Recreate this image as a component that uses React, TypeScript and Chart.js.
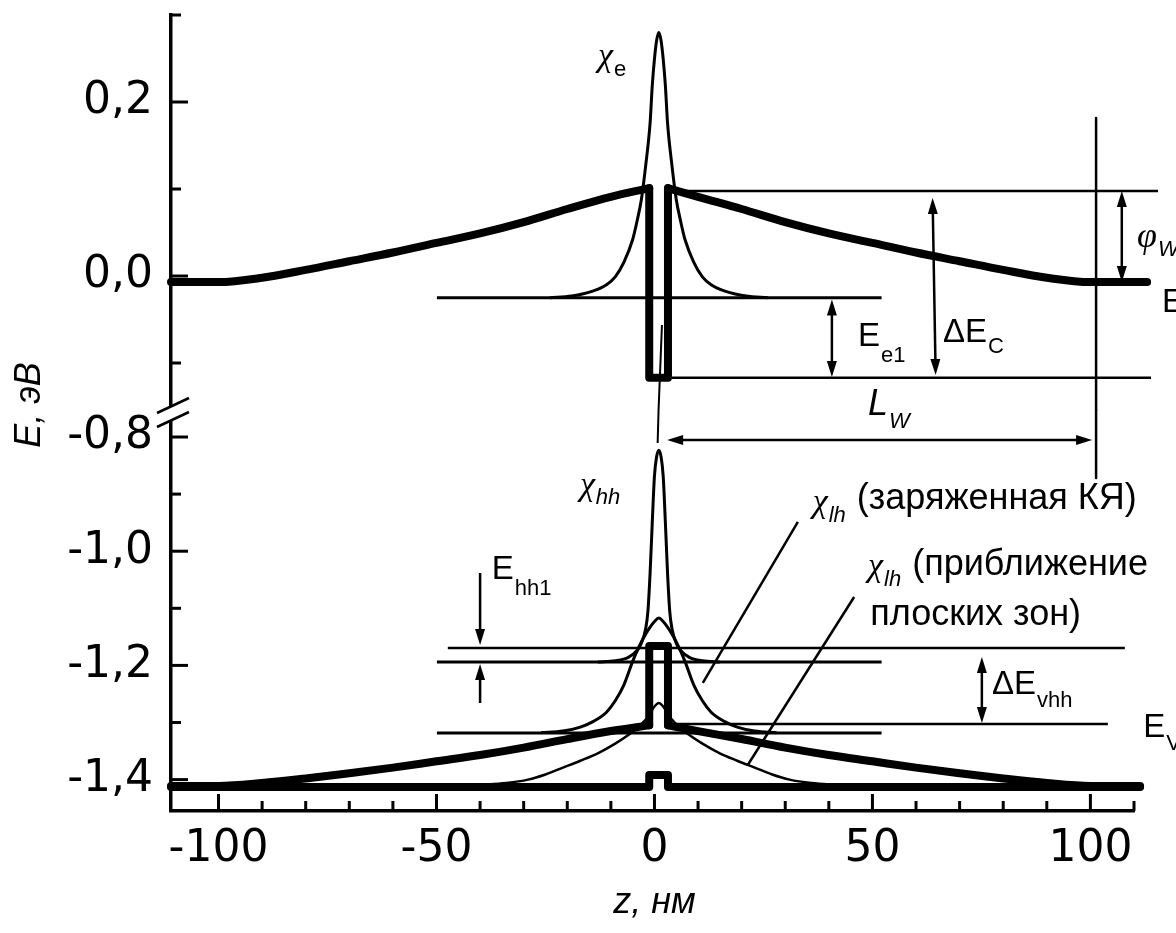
import React, { useEffect, useRef } from "react";
import { Chart, registerables } from "chart.js";

Chart.register(...registerables);

// ---------- axes ----------
const X_MIN = -110.9;
const X_MAX = 110;
const X_STEP = 10;
const X_LABELED = [-100, -50, 0, 50, 100];
const E_TOP_MIN = -0.154;
const E_TOP_MAX = 0.3;
const E_BOT_MIN = -1.455;
const E_BOT_MAX = -0.7527;
const E_STEP = 0.1;
const E_LABELED = [0.2, 0.0, -0.8, -1.0, -1.2, -1.4];

// ---------- conduction band (upper panel), [z nm, E eV] ----------
const ecLeft = [[-110.9, -0.007], [-100, -0.007], [-90, -0.002], [-80, 0.007], [-70, 0.017], [-60, 0.027], [-50, 0.038], [-40, 0.049], [-30, 0.062], [-20, 0.077], [-10, 0.091], [-1.2, 0.101]];
const ecWell = [[-1.2, 0.101], [-1.2, -0.117], [3.1, -0.117], [3.1, 0.101]];
const ecRight = [[3.1, 0.101], [10, 0.091], [20, 0.077], [30, 0.062], [40, 0.049], [50, 0.038], [60, 0.027], [70, 0.017], [80, 0.007], [90, -0.002], [100, -0.007], [113, -0.007]];
const chiE = [[-24, -0.025], [-19, -0.023], [-14, -0.017], [-11, -0.010], [-9, -0.001], [-7, 0.016], [-5, 0.042], [-4, 0.063], [-3, 0.088], [-2, 0.1275], [-1, 0.176], [-0.5, 0.219], [0, 0.2495], [0.5, 0.271], [1, 0.280], [1.5, 0.271], [2, 0.2495], [2.5, 0.219], [3, 0.176], [4, 0.1275], [5, 0.088], [6, 0.063], [7, 0.042], [9, 0.016], [11, -0.001], [13, -0.010], [16, -0.017], [21, -0.023], [26, -0.025]];
const levelEe1 = [[-49.9, -0.025], [52.1, -0.025]];
const levelTopC = [[4.2, 0.0977], [115.5, 0.0977]];
const levelWellC = [[4.0, -0.117], [113.9, -0.117]];
const vLineTop = [[101.3, 0.1816], [101.3, -0.154]];
const pointerTop = [[0.94, -0.154], [1.72, -0.0563]];

// ---------- valence band (lower panel) ----------
const evLeft = [[-110.9, -1.411], [-100, -1.411], [-90, -1.406], [-80, -1.398], [-70, -1.389], [-60, -1.379], [-50, -1.368], [-40, -1.357], [-30, -1.344], [-20, -1.329], [-10, -1.315], [-1.2, -1.305]];
const evWell = [[-1.2, -1.305], [-1.2, -1.166], [3.1, -1.166], [3.1, -1.305]];
const evRight = [[3.1, -1.305], [10, -1.315], [20, -1.329], [30, -1.344], [40, -1.357], [50, -1.368], [60, -1.379], [70, -1.389], [80, -1.398], [90, -1.406], [100, -1.411], [111.4, -1.411]];
const evFlat = [[-110.9, -1.413], [-1.2, -1.413], [-1.2, -1.392], [3.1, -1.392], [3.1, -1.413], [111.4, -1.413]];
const chiHH = [[-13, -1.194], [-9, -1.192], [-6, -1.186], [-4, -1.174], [-3, -1.161], [-2, -1.135], [-1.5, -1.105], [-1, -1.038], [-0.5, -0.949], [0, -0.868], [0.5, -0.834], [1, -0.823], [1.5, -0.834], [2, -0.868], [2.5, -0.949], [3, -1.038], [3.5, -1.105], [4, -1.135], [5, -1.161], [6, -1.174], [8, -1.186], [11, -1.192], [15, -1.194]];
const chiLHq = [[-26, -1.318], [-21, -1.315], [-17, -1.308], [-14, -1.298], [-11, -1.282], [-9, -1.262], [-7, -1.234], [-5, -1.193], [-4, -1.175], [-3, -1.159], [-2, -1.145], [-1, -1.133], [0, -1.123], [1, -1.117], [2, -1.123], [3, -1.133], [4, -1.145], [5, -1.159], [6, -1.175], [7, -1.193], [9, -1.234], [11, -1.262], [13, -1.282], [16, -1.298], [19, -1.308], [23, -1.315], [28, -1.318]];
const chiLHf = [[-49, -1.413], [-39, -1.409], [-34, -1.406], [-29, -1.400], [-25, -1.391], [-21, -1.379], [-17, -1.367], [-13, -1.354], [-9, -1.337], [-6, -1.322], [-4, -1.310], [-2, -1.295], [-1, -1.284], [0, -1.272], [1, -1.266], [2, -1.272], [3, -1.284], [4, -1.295], [6, -1.310], [8, -1.322], [11, -1.337], [15, -1.354], [19, -1.367], [23, -1.379], [27, -1.391], [31, -1.400], [36, -1.406], [41, -1.409], [51, -1.413]];
const levelTopV = [[-47.4, -1.1695], [107.9, -1.1695]];
const levelHh1 = [[-49.9, -1.194], [52.1, -1.194]];
const levelWellV = [[4.0, -1.3026], [104.0, -1.3026]];
const levelLh = [[-49.9, -1.3184], [52.1, -1.3184]];
const vLineBot = [[101.3, -0.7527], [101.3, -0.8718]];
const pointerBot = [[0.73, -0.8105], [0.94, -0.7527]];
const leaderQ = [[11.1, -1.2308], [32.9, -0.9488]];
const leaderF = [[21.4, -1.3744], [45.8, -1.0802]];

// ---------- arrows: [axis, z1, E1, z2, E2, headAtStart, headAtEnd] ----------
const arrowsList: any[] = [
  ["yTop", 107.2, 0.0977, 107.2, -0.007, 1, 1],
  ["yTop", 63.8, 0.0897, 64.5, -0.1138, 1, 1],
  ["yTop", 40.7, -0.027, 40.7, -0.116, 1, 1],
  ["yBot", 2.9, -0.8052, 100.4, -0.8052, 1, 1],
  ["yBot", 75.1, -1.1853, 75.1, -1.3009, 1, 1],
  ["yBot", -40.0, -1.0382, -40.0, -1.1643, 0, 1],
  ["yBot", -40.0, -1.2659, -40.0, -1.1975, 0, 1],
];

const SANS = "'Liberation Sans', Arial, sans-serif";
const SERIF = "'Liberation Serif', 'Times New Roman', serif";
const TICK_FONT = "'DejaVu Sans', Verdana, sans-serif";

// ---------- text labels: axis, z, E, parts [text, font, dy] ----------
const textLabels: any[] = [
  ["yTop", -12.96, 0.2517, [["χ", `italic 34px ${SERIF}`, 0], ["e", `22px ${SANS}`, 13]]],
  ["yBot", -17.1, -0.8858, [["χ", `italic 34px ${SERIF}`, 0], ["hh", `italic 22px ${SANS}`, 12]]],
  ["yBot", 36.3, -0.9156, [["χ", `italic 34px ${SERIF}`, 0], ["lh", `italic 22px ${SANS}`, 13], [" (заряженная КЯ)", `36px ${SANS}`, -4]]],
  ["yBot", 49.0, -1.0277, [["χ", `italic 34px ${SERIF}`, 0], ["lh", `italic 22px ${SANS}`, 13], [" (приближение", `36px ${SANS}`, -2]]],
  ["yBot", 49.5, -1.1118, [["плоских зон)", `36px ${SANS}`, 0]]],
  ["yTop", 66.2, -0.0655, [["ΔE", `33px ${SANS}`, 0], ["C", `22px ${SANS}`, 14]]],
  ["yTop", 46.7, -0.0701, [["E", `33px ${SANS}`, 0], ["e1", `22px ${SANS}`, 19]]],
  ["yTop", 110.7, 0.0437, [["φ", `italic 36px ${SERIF}`, 0], ["W", `italic 22px ${SANS}`, 12]]],
  ["yTop", 116.4, -0.031, [["E", `33px ${SANS}`, 0], ["C", `22px ${SANS}`, 14]]],
  ["yTop", 49.0, -0.1483, [["L", `italic 36px ${SANS}`, 0], ["W", `italic 22px ${SANS}`, 17]]],
  ["yBot", 77.4, -1.2343, [["ΔE", `33px ${SANS}`, 0], ["vhh", `22px ${SANS}`, 16]]],
  ["yBot", 112.1, -1.3096, [["E", `33px ${SANS}`, 0], ["V", `22px ${SANS}`, 16]]],
  ["yBot", -37.3, -1.0329, [["E", `33px ${SANS}`, 0], ["hh1", `22px ${SANS}`, 19]]],
];

const Y_TITLE = "E, эВ";
const X_TITLE = "z, нм";

function drawArrowHead(ctx: CanvasRenderingContext2D, tx: number, ty: number, fx: number, fy: number) {
  const ang = Math.atan2(ty - fy, tx - fx);
  const L = 16, W = 5;
  ctx.beginPath();
  ctx.moveTo(tx, ty);
  ctx.lineTo(tx - L * Math.cos(ang) + W * Math.sin(ang), ty - L * Math.sin(ang) - W * Math.cos(ang));
  ctx.lineTo(tx - L * Math.cos(ang) - W * Math.sin(ang), ty - L * Math.sin(ang) + W * Math.cos(ang));
  ctx.closePath();
  ctx.fill();
}

const decor = {
  id: "decor",
  afterDatasetsDraw(chart: any) {
    const ctx: CanvasRenderingContext2D = chart.ctx;
    const xs = chart.scales.x;
    const yt = chart.scales.yTop;
    const yb = chart.scales.yBot;
    const area = chart.chartArea;
    ctx.save();
    ctx.strokeStyle = "#000";
    ctx.fillStyle = "#000";

    // inward tick marks
    ctx.lineWidth = 3;
    ctx.lineCap = "butt";
    for (const t of xs.ticks) {
      const px = xs.getPixelForValue(t.value);
      if (px - area.left < 6) continue;
      const major = X_LABELED.some((v) => Math.abs(v - t.value) < 1e-6);
      const len = major ? 17 : 10;
      ctx.beginPath();
      ctx.moveTo(px, area.bottom);
      ctx.lineTo(px, area.bottom - len);
      ctx.stroke();
    }
    for (const s of [yt, yb]) {
      for (const t of s.ticks) {
        const py = s.getPixelForValue(t.value);
        const major = E_LABELED.some((v) => Math.abs(v - t.value) < 1e-6);
        const len = major ? 17 : 10;
        ctx.beginPath();
        ctx.moveTo(area.left, py);
        ctx.lineTo(area.left + len, py);
        ctx.stroke();
      }
    }

    // axis break
    const b = yt.bottom;
    const ax = area.left;
    ctx.fillStyle = "#fff";
    ctx.fillRect(ax - 4, b - 3, 8, 13);
    ctx.fillStyle = "#000";
    ctx.lineWidth = 2.5;
    ctx.beginPath();
    ctx.moveTo(ax - 14, b + 3);
    ctx.lineTo(ax + 18, b - 12);
    ctx.moveTo(ax - 14, b + 17);
    ctx.lineTo(ax + 18, b + 2);
    ctx.stroke();

    // arrows
    ctx.lineWidth = 2.5;
    for (const a of arrowsList) {
      const s = a[0] === "yTop" ? yt : yb;
      const x1 = xs.getPixelForValue(a[1]);
      const y1 = s.getPixelForValue(a[2]);
      const x2 = xs.getPixelForValue(a[3]);
      const y2 = s.getPixelForValue(a[4]);
      const len = Math.hypot(x2 - x1, y2 - y1);
      const ux = (x2 - x1) / len, uy = (y2 - y1) / len;
      const sx = a[5] ? x1 + ux * 12 : x1, sy = a[5] ? y1 + uy * 12 : y1;
      const ex = a[6] ? x2 - ux * 12 : x2, ey = a[6] ? y2 - uy * 12 : y2;
      ctx.beginPath();
      ctx.moveTo(sx, sy);
      ctx.lineTo(ex, ey);
      ctx.stroke();
      if (a[5]) drawArrowHead(ctx, x1, y1, x2, y2);
      if (a[6]) drawArrowHead(ctx, x2, y2, x1, y1);
    }

    // labels
    ctx.textBaseline = "middle";
    ctx.textAlign = "left";
    for (const l of textLabels) {
      const s = l[0] === "yTop" ? yt : yb;
      let x = xs.getPixelForValue(l[1]);
      const y = s.getPixelForValue(l[2]);
      for (const p of l[3]) {
        ctx.font = p[1];
        ctx.fillText(p[0], x, y + p[2]);
        x += ctx.measureText(p[0]).width + 1;
      }
    }

    // axis titles
    ctx.font = `italic 36px ${SANS}`;
    ctx.textAlign = "center";
    ctx.fillText(X_TITLE, xs.getPixelForValue(0), 903);
    ctx.save();
    ctx.translate(30, b - 5);
    ctx.rotate(-Math.PI / 2);
    ctx.fillText(Y_TITLE, 0, 0);
    ctx.restore();

    ctx.restore();
  },
};

const toXY = (pts: number[][]) => pts.map(([x, y]) => ({ x, y }));

function ds(pts: number[][], axis: string, width: number, smooth = false) {
  return {
    data: toXY(pts),
    yAxisID: axis,
    borderColor: "#000",
    backgroundColor: "#000",
    borderWidth: width,
    pointRadius: 0,
    pointHoverRadius: 0,
    fill: false,
    tension: 0,
    cubicInterpolationMode: smooth ? "monotone" : "default",
    borderJoinStyle: "round",
    borderCapStyle: width >= 6 ? "round" : "butt",
    clip: false,
  };
}

function eLabel(v: number) {
  const t = E_LABELED.find((e) => Math.abs(e - v) < 1e-6);
  return t === undefined ? "" : t.toFixed(1).replace(".", ",");
}

export default function App() {
  const ref = useRef<HTMLCanvasElement>(null);
  useEffect(() => {
    const canvas = ref.current;
    if (!canvas) return;
    const datasets: any[] = [
      ds(ecLeft, "yTop", 8, true),
      ds(ecWell, "yTop", 8),
      ds(ecRight, "yTop", 8, true),
      ds(chiE, "yTop", 3, true),
      ds(levelEe1, "yTop", 3),
      ds(levelTopC, "yTop", 2.5),
      ds(levelWellC, "yTop", 2.5),
      ds(vLineTop, "yTop", 2.5),
      ds(pointerTop, "yTop", 2),
      ds(evFlat, "yBot", 8),
      ds(evLeft, "yBot", 8, true),
      ds(evWell, "yBot", 8),
      ds(evRight, "yBot", 8, true),
      ds(chiHH, "yBot", 3, true),
      ds(chiLHq, "yBot", 3, true),
      ds(chiLHf, "yBot", 2.5, true),
      ds(levelTopV, "yBot", 2.5),
      ds(levelHh1, "yBot", 3),
      ds(levelWellV, "yBot", 2.5),
      ds(levelLh, "yBot", 3),
      ds(vLineBot, "yBot", 2.5),
      ds(pointerBot, "yBot", 2),
      ds(leaderQ, "yBot", 2.5),
      ds(leaderF, "yBot", 2.5),
    ];
    const tickFont = { family: TICK_FONT, size: 44 };
    const yCommon = (min: number, max: number, weight: number, stackWeight: number) => ({
      type: "linear",
      position: "left",
      stack: "E",
      stackWeight,
      weight,
      min,
      max,
      afterFit: (s: any) => {
        s.width = 171;
        s.paddingTop = 0;
        s.paddingBottom = 0;
      },
      border: { display: true, color: "#000", width: 3.5 },
      grid: { display: false, drawTicks: false },
      ticks: {
        stepSize: E_STEP,
        includeBounds: false,
        autoSkip: false,
        padding: 18,
        color: "#000",
        font: tickFont,
        callback: (v: number) => eLabel(v),
      },
    });
    const chart = new Chart(canvas, {
      type: "line",
      data: { datasets },
      options: {
        responsive: false,
        animation: false,
        events: [],
        layout: { padding: { top: 15, right: 42, left: 0, bottom: 0 } },
        plugins: { legend: { display: false }, tooltip: { enabled: false } },
        scales: {
          x: {
            type: "linear",
            min: X_MIN,
            max: X_MAX,
            afterFit: (s: any) => {
              s.height = 122;
              s.paddingLeft = 0;
              s.paddingRight = 0;
            },
            border: { display: true, color: "#000", width: 3.5 },
            grid: { display: false, drawTicks: false },
            ticks: {
              stepSize: X_STEP,
              includeBounds: false,
              autoSkip: false,
              maxRotation: 0,
              padding: 12,
              color: "#000",
              font: tickFont,
              callback: (v: number) => {
                const t = X_LABELED.find((e) => Math.abs(e - v) < 1e-6);
                return t === undefined ? "" : String(t);
              },
            },
          },
          yTop: yCommon(E_TOP_MIN, E_TOP_MAX, 2, 395),
          yBot: yCommon(E_BOT_MIN, E_BOT_MAX, 1, 401),
        } as any,
      },
      plugins: [decor],
    } as any);
    return () => chart.destroy();
  }, []);
  return (
    <div style={{ position: "absolute", left: 0, top: 0, width: 1176, height: 933, background: "#fff", overflow: "hidden" }}>
      <canvas ref={ref} width={1176} height={933} style={{ display: "block" }} />
    </div>
  );
}
